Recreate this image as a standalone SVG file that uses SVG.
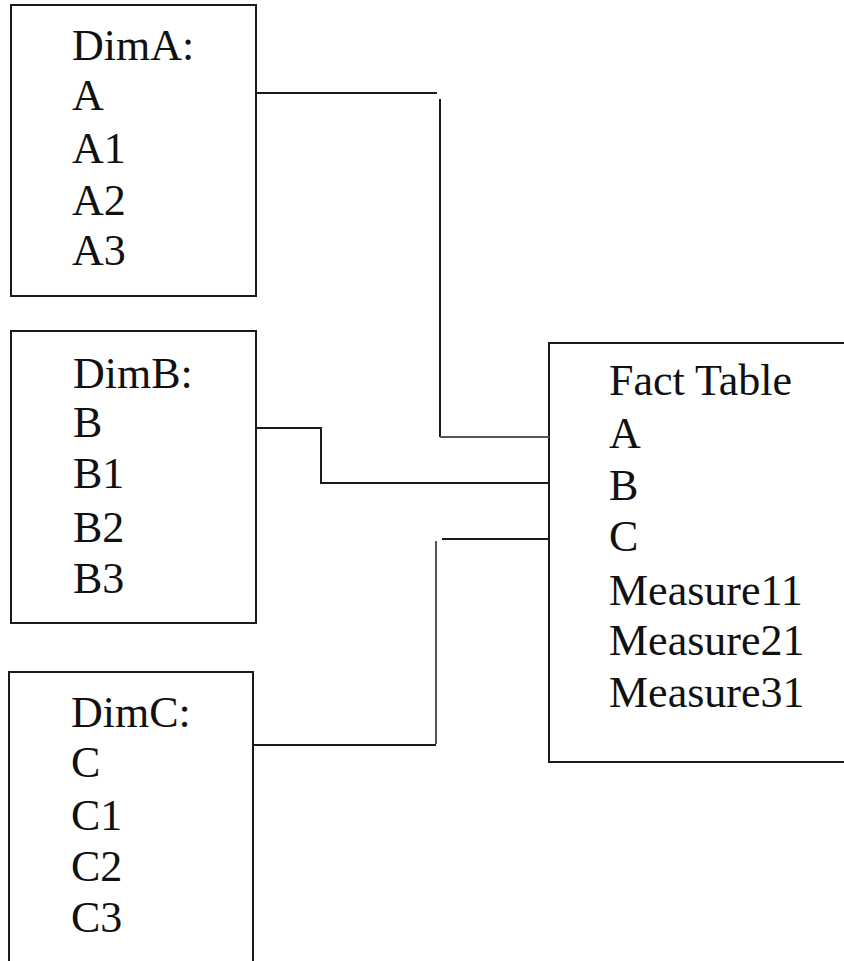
<svg xmlns="http://www.w3.org/2000/svg" width="844" height="961" viewBox="0 0 844 961">
<style>
.box{fill:#fff;stroke:#1a1a1a;stroke-width:2}
.t{font-size:44px;fill:#111}
.c{fill:none;stroke:#1a1a1a;stroke-width:2}
.g{fill:none;stroke:#555;stroke-width:2}
</style>
<rect width="844" height="961" fill="#fff"/>
<g font-family="'Liberation Serif', 'Times New Roman', 'DejaVu Serif', serif">
<g id="dimA">
<rect class="box" x="11" y="5" width="245" height="291"/>
<text class="t" x="72" y="60">DimA:</text>
<text class="t" x="72" y="110">A</text>
<text class="t" x="72" y="163">A1</text>
<text class="t" x="72" y="215">A2</text>
<text class="t" x="72" y="265">A3</text>
</g>
<g id="dimB">
<rect class="box" x="11" y="331" width="245" height="292"/>
<text class="t" x="73" y="388">DimB:</text>
<text class="t" x="73" y="437">B</text>
<text class="t" x="73" y="488">B1</text>
<text class="t" x="73" y="542">B2</text>
<text class="t" x="73" y="593">B3</text>
</g>
<g id="dimC">
<rect class="box" x="9" y="672" width="244" height="310"/>
<text class="t" x="71" y="727">DimC:</text>
<text class="t" x="71" y="777">C</text>
<text class="t" x="71" y="830">C1</text>
<text class="t" x="71" y="881">C2</text>
<text class="t" x="71" y="932">C3</text>
</g>
<g id="fact">
<rect class="box" x="549" y="343" width="310" height="419"/>
<text class="t" x="609" y="395">Fact Table</text>
<text class="t" x="609" y="448">A</text>
<text class="t" x="609" y="500">B</text>
<text class="t" x="609" y="551">C</text>
<text class="t" x="609" y="605">Measure11</text>
<text class="t" x="609" y="655">Measure21</text>
<text class="t" x="609" y="707">Measure31</text>
</g>
</g>
<g id="connectors">
<polyline class="c" points="256,93 437,93"/>
<polyline class="c" points="440,99 440,437"/>
<polyline class="g" points="440,437 549,437"/>
<polyline class="c" points="256,428 321,428 321,483 549,483"/>
<polyline class="c" points="549,539 442,539"/>
<polyline class="g" points="436,541 436,744"/>
<polyline class="c" points="253,745 436,745"/>
</g>
</svg>
